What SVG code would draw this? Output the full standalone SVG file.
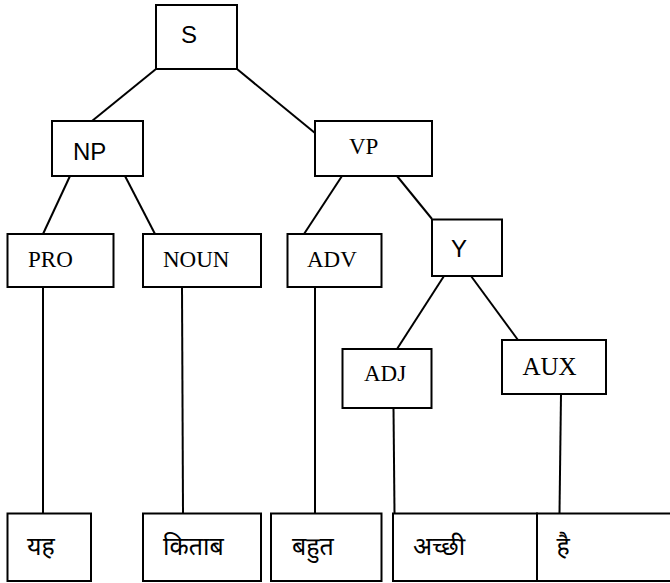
<svg xmlns="http://www.w3.org/2000/svg" width="670" height="583" viewBox="0 0 670 583">
<style>
rect{fill:#fff;stroke:#000;stroke-width:2}
line{stroke:#000;stroke-width:2}
.sans{font-family:"Liberation Sans",Arial,sans-serif;font-size:24px;fill:#000}
.serif{font-family:"Liberation Serif","Times New Roman",serif;font-size:23px;fill:#000}
.hi{font-family:"Noto Sans Devanagari","Noto Sans","Lohit Devanagari",sans-serif;font-size:25px;fill:#000}
</style>
<rect x="0" y="0" width="670" height="583" style="fill:#fff;stroke:none"/>
<g id="connectors">
<line x1="156" y1="69" x2="92" y2="121"/>
<line x1="237" y1="69" x2="315" y2="133"/>
<line x1="70" y1="176" x2="43" y2="234"/>
<line x1="125" y1="176" x2="155" y2="234"/>
<line x1="342" y1="176" x2="304" y2="234"/>
<line x1="397" y1="176" x2="432" y2="219"/>
<line x1="444" y1="276" x2="397" y2="349"/>
<line x1="471" y1="276" x2="518" y2="340"/>
<line x1="43" y1="287" x2="43" y2="513"/>
<line x1="182" y1="287" x2="183" y2="513"/>
<line x1="315" y1="287" x2="315" y2="513"/>
<line x1="393.5" y1="408" x2="394.5" y2="513"/>
<line x1="561" y1="394" x2="559.5" y2="513"/>
</g>
<g id="S"><rect x="156" y="5" width="81" height="64"/><text class="sans" x="189" y="43" text-anchor="middle">S</text></g>
<g id="NP"><rect x="52" y="121" width="91" height="55"/><text class="sans" x="73" y="160">NP</text></g>
<g id="VP"><rect x="315" y="121" width="117" height="55"/><text class="serif" x="349" y="154">VP</text></g>
<g id="PRO"><rect x="7.5" y="234" width="106" height="53"/><text class="serif" x="28" y="267">PRO</text></g>
<g id="NOUN"><rect x="143" y="234" width="118" height="53"/><text class="serif" x="163" y="267">NOUN</text></g>
<g id="ADV"><rect x="287.5" y="234" width="94" height="53"/><text class="serif" x="307" y="267">ADV</text></g>
<g id="Y"><rect x="432" y="219.5" width="70" height="56.5"/><text class="sans" x="459" y="257" text-anchor="middle">Y</text></g>
<g id="ADJ"><rect x="342.5" y="349" width="89" height="59"/><text class="serif" x="364" y="381">ADJ</text></g>
<g id="AUX"><rect x="502" y="340" width="104" height="54"/><text class="serif" x="522.5" y="375" style="font-size:25px">AUX</text></g>
<g id="w-yah"><rect x="7.5" y="513.5" width="83.5" height="67.5"/><text class="hi" x="27" y="555">यह</text></g>
<g id="w-kitab"><rect x="143" y="513.5" width="118" height="67.5"/><text class="hi" x="163" y="555">किताब</text></g>
<g id="w-bahut"><rect x="271" y="513.5" width="110.5" height="67.5"/><text class="hi" x="292" y="555">बहुत</text></g>
<g id="w-achchhi"><rect x="393" y="513.5" width="144" height="67.5"/><text class="hi" x="413" y="555">अच्छी</text></g>
<g id="w-hai"><rect x="537" y="513.5" width="140" height="67.5"/><text class="hi" x="556.5" y="555">है</text></g>
</svg>
